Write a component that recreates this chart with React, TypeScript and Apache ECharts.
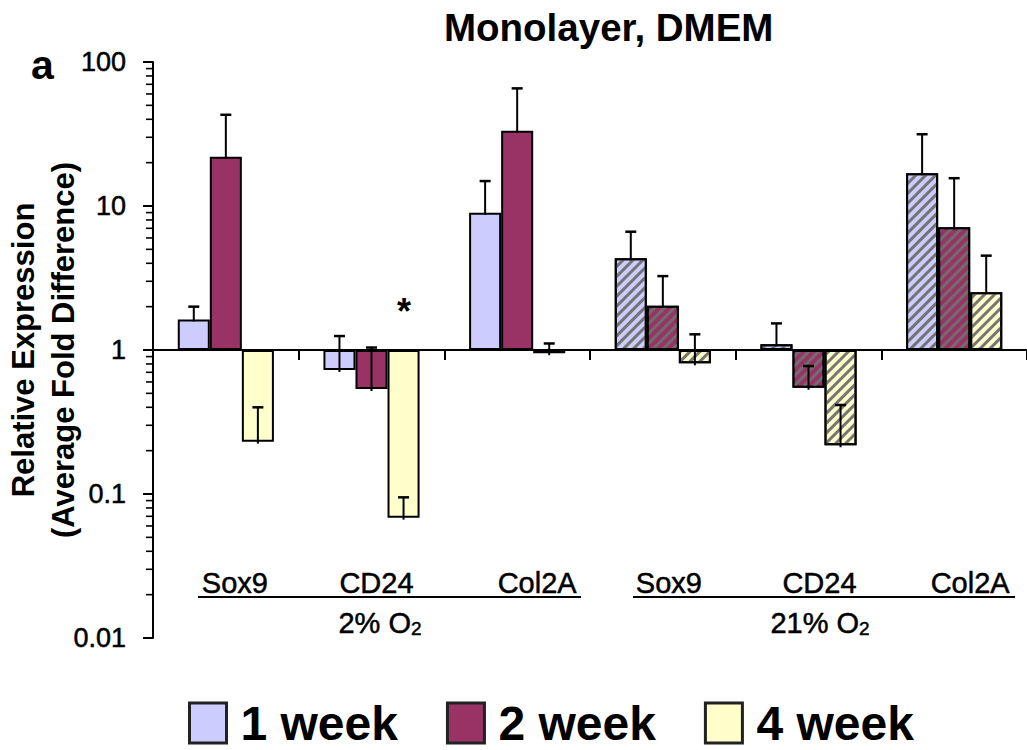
import React, { useEffect, useRef } from 'react';
import * as echarts from 'echarts';

// ---- data ----
const categoryKeys = ['Sox9|2', 'CD24|2', 'Col2A|2', 'Sox9|21', 'CD24|21', 'Col2A|21'];
const categoryLabels = ['Sox9', 'CD24', 'Col2A', 'Sox9', 'CD24', 'Col2A'];
const oxygenGroups = ['2% O', '21% O'];
const seriesNames = ['1 week', '2 week', '4 week'];
const week1 = [1.63, 0.726, 8.98, 4.33, 1.095, 16.9];
const week2 = [22, 0.536, 33.3, 2.03, 0.547, 7.11];
const week4 = [0.231, 0.0685, 0.95, 0.808, 0.218, 2.52];
const week1Upper = [2.0, 1.25, 14.9, 6.63, 1.53, 31.5];
const week2Upper = [43, 1.04, 65.6, 3.26, 0.774, 15.6];
const week4Upper = [0.4, 0.0948, 1.11, 1.285, 0.415, 4.52];
const hatchedGroup = [false, false, false, true, true, true];
const yTickLabels = ['0.01', '0.1', '1', '10', '100'];
const decades = [0.01, 0.1, 1, 10];
const minorMultipliers = [2, 3, 4, 5, 6, 7, 8, 9];

// ---- layout / style ----
const FONT = '"Liberation Sans", Arial, Helvetica, sans-serif';
const colors = ['#ccccff', '#993366', '#ffffcc'];
const labelShift = [9, 5, 20, 6, 11, 16];
const BAR_GAP = 0.34;
const heavy = { textBorderColor: '#000', textBorderWidth: 0.5 };

export default function App() {
  const ref = useRef<HTMLDivElement>(null);
  useEffect(() => {
    if (!ref.current) return;
    const chart = echarts.init(ref.current, undefined, { renderer: 'svg' });
    const values = [week1, week2, week4];
    const uppers = [week1Upper, week2Upper, week4Upper];
    const hatch = {
      symbol: 'rect',
      symbolSize: 1,
      color: 'rgba(110,110,110,0.95)',
      dashArrayX: [1, 0],
      dashArrayY: [2.5, 3.5],
      rotation: -Math.PI / 4,
    };
    const barSeries = seriesNames.map((name, k) => ({
      name,
      type: 'bar',
      xAxisIndex: 0,
      yAxisIndex: 0,
      barGap: '0%',
      barCategoryGap: BAR_GAP * 100 + '%',
      itemStyle: { color: colors[k], borderColor: '#000', borderWidth: 2 },
      data: values[k].map((v, i) =>
        hatchedGroup[i] ? { value: v, itemStyle: { decal: hatch } } : { value: v }
      ),
      z: 2,
    }));
    const errData: number[][] = [];
    for (let k = 0; k < 3; k++) {
      for (let i = 0; i < categoryKeys.length; i++) {
        errData.push([i, uppers[k][i], values[k][i], k]);
      }
    }
    const errSeries = {
      type: 'custom',
      name: 'err',
      xAxisIndex: 0,
      yAxisIndex: 0,
      z: 5,
      encode: { x: 0, y: 1 },
      data: errData,
      renderItem: (params: any, api: any) => {
        const cat = api.value(0);
        const up = api.value(1);
        const val = api.value(2);
        const k = api.value(3);
        const band = api.size([1, 0], [cat, 1])[0];
        const bw = (band * (1 - BAR_GAP)) / 3;
        const pTop = api.coord([cat, up]);
        const pBot = api.coord([cat, val]);
        const x = pTop[0] + (k - 1) * bw;
        return {
          type: 'group',
          children: [
            {
              type: 'line',
              shape: { x1: x, y1: pTop[1], x2: x, y2: pBot[1] + 2 },
              style: { stroke: '#000', lineWidth: 2 },
            },
            {
              type: 'line',
              shape: { x1: x - 5.5, y1: pTop[1], x2: x + 5.5, y2: pTop[1] },
              style: { stroke: '#000', lineWidth: 2.5 },
            },
          ],
        };
      },
    };
    const minorData: number[][] = [];
    decades.forEach((d) => minorMultipliers.forEach((m) => minorData.push([0, m * d])));
    const minorTickSeries = {
      type: 'custom',
      name: 'minorTicks',
      xAxisIndex: 0,
      yAxisIndex: 0,
      z: 6,
      silent: true,
      clip: false,
      encode: { x: 0, y: 1 },
      data: minorData,
      renderItem: (params: any, api: any) => {
        const p = api.coord([0, api.value(1)]);
        const x0 = params.coordSys.x;
        return {
          type: 'line',
          shape: { x1: x0 - 7, y1: p[1], x2: x0, y2: p[1] },
          style: { stroke: '#000', lineWidth: 1.6 },
        };
      },
    };

    const option: any = {
      animation: false,
      backgroundColor: '#fff',
      textStyle: { fontFamily: FONT },
      title: {
        text: 'Monolayer, DMEM',
        left: 439,
        top: 3,
        textStyle: { fontSize: 38.5, fontWeight: 'bold', color: '#000', fontFamily: FONT },
      },
      legend: {
        data: seriesNames,
        left: 188,
        top: 699,
        padding: 0,
        itemWidth: 37,
        itemHeight: 40,
        itemGap: 48,
        icon: 'rect',
        itemStyle: { borderColor: '#222', borderWidth: 3 },
        textStyle: {
          fontSize: 48,
          lineHeight: 44,
          fontWeight: 'bold',
          color: '#000',
          fontFamily: FONT,
          padding: [0, 0, 0, 9],
        },
      },
      grid: { left: 153, right: 0, top: 62, bottom: 112, containLabel: false, outerBoundsMode: 'none' },
      xAxis: [
        {
          type: 'category',
          data: categoryKeys,
          position: 'bottom',
          offset: -288,
          boundaryGap: true,
          axisLine: { onZero: false, lineStyle: { color: '#000', width: 2 } },
          axisTick: { show: true, alignWithLabel: false, length: 10, lineStyle: { color: '#000', width: 2 } },
          axisLabel: { show: false },
          splitLine: { show: false },
        },
        {
          type: 'category',
          data: categoryKeys.map((c, i) => ({
            value: c,
            textStyle: { padding: [0, 0, 0, labelShift[i] * 2] },
          })),
          position: 'bottom',
          offset: -70,
          boundaryGap: true,
          axisLine: { show: false, onZero: false },
          axisTick: { show: false },
          axisLabel: {
            show: true,
            interval: 0,
            margin: 0,
            fontSize: 29,
            color: '#000',
            fontFamily: FONT,
            ...heavy,
            formatter: (_v: string, i: number) => categoryLabels[i],
          },
          splitLine: { show: false },
        },
      ],
      yAxis: {
        type: 'log',
        logBase: 10,
        min: 0.01,
        max: 100,
        name: 'Relative Expression\n(Average Fold Difference)',
        nameLocation: 'middle',
        nameRotate: 90,
        nameGap: 70,
        nameMoveOverlap: false,
        nameTextStyle: { fontSize: 31, fontWeight: 'bold', color: '#000', lineHeight: 40, fontFamily: FONT },
        axisLine: { show: true, onZero: false, lineStyle: { color: '#000', width: 2 } },
        axisTick: { show: true, length: 10, lineStyle: { color: '#000', width: 2 } },
        minorTick: { show: false },
        splitLine: { show: false },
        minorSplitLine: { show: false },
        axisLabel: {
          margin: 27,
          fontSize: 27,
          color: '#000',
          fontFamily: FONT,
          ...heavy,
          formatter: (v: number) => {
            const idx = Math.round(Math.log10(v)) + 2;
            return yTickLabels[idx] ?? String(v);
          },
        },
      },
      graphic: [
        {
          type: 'text',
          left: 31,
          top: 44,
          style: { text: 'a', font: `bold 41px ${FONT}`, fill: '#000' },
        },
        {
          type: 'text',
          x: 404,
          y: 311,
          style: { text: '*', font: `bold 36px ${FONT}`, fill: '#000', align: 'center', verticalAlign: 'middle' },
        },
        {
          type: 'line',
          shape: { x1: 198, y1: 597, x2: 581, y2: 597 },
          style: { stroke: '#000', lineWidth: 2 },
        },
        {
          type: 'line',
          shape: { x1: 633, y1: 597, x2: 1015, y2: 597 },
          style: { stroke: '#000', lineWidth: 2 },
        },
        ...oxygenGroups.map((g, j) => ({
          type: 'text',
          x: j === 0 ? 380 : 820,
          y: 623,
          style: {
            text: `{n|${g}}{s|2}`,
            align: 'center',
            verticalAlign: 'middle',
            fill: '#000',
            rich: {
              n: { fontSize: 29, fontFamily: FONT, fill: '#000', lineHeight: 30, stroke: '#000', lineWidth: 0.5 },
              s: { fontSize: 19, fontFamily: FONT, fill: '#000', verticalAlign: 'bottom', lineHeight: 10, stroke: '#000', lineWidth: 0.5 },
            },
          },
        })),
      ],
      series: [...barSeries, errSeries, minorTickSeries],
    };
    chart.setOption(option);
    return () => chart.dispose();
  }, []);
  return (
    <div
      ref={ref}
      style={{ position: 'absolute', left: 0, top: 0, width: 1027, height: 750, background: '#fff' }}
    />
  );
}
